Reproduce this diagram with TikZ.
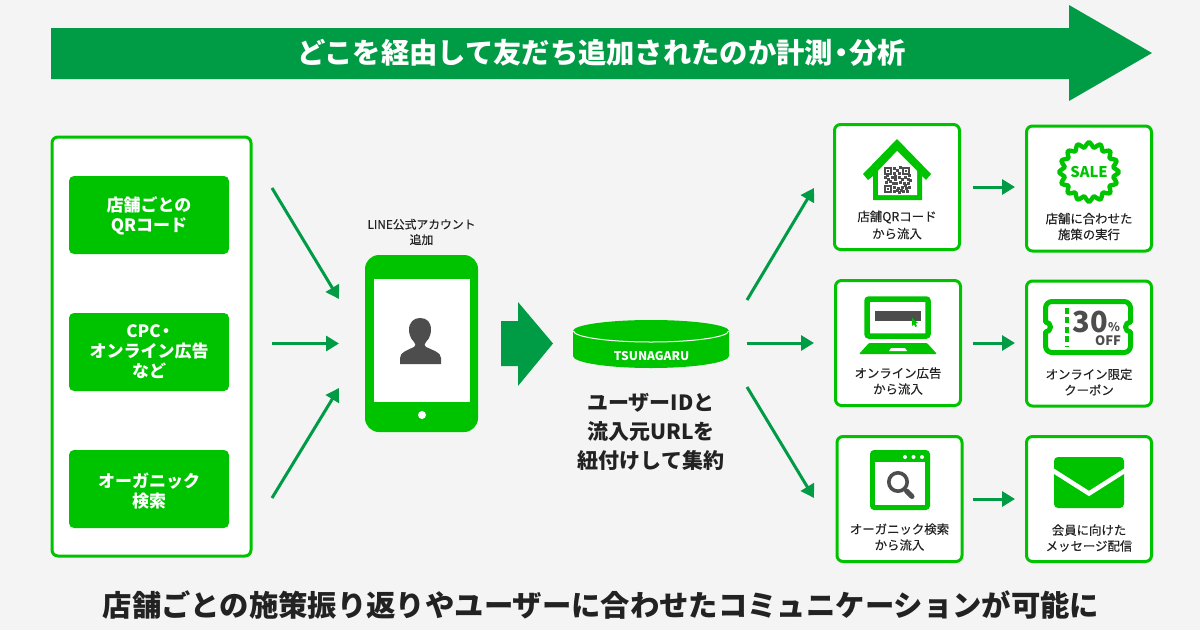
\documentclass[tikz,border=0pt]{standalone}
\usepackage{fontspec}
\setmainfont{Noto Sans CJK JP}
\newfontfamily\medf[FakeBold=0.25]{Noto Sans CJK JP}
\usetikzlibrary{arrows.meta,calc}
\definecolor{bgc}{HTML}{F4F4F4}
\definecolor{lime}{HTML}{00C300}
\definecolor{deep}{HTML}{009B45}
\definecolor{ink}{HTML}{222222}
\definecolor{greyi}{HTML}{4D4D4D}
\newcommand{\fs}[1]{\fontsize{#1}{#1}\selectfont}
\tikzset{
 panel/.style={draw=lime,fill=white,line width=3pt,rounded corners=6pt,inner sep=0pt,minimum width=#1},
 cardb/.style={panel=125pt,minimum height=125pt},
 srcbox/.style={fill=lime,rounded corners=5pt,minimum width=160pt,minimum height=78pt,inner sep=0pt},
 srctext/.style={inner sep=0pt,text=white,align=center,font=\fontsize{17}{20}\selectfont\bfseries},
 lab/.style={text=ink,align=center,font=\fs{12.4}\medf,inner sep=0pt},
 flow/.style={draw=deep,line width=3pt,-{Triangle[length=13pt,width=15pt]}},
 gq/.style={fill=greyi},
}
\begin{document}
\begin{tikzpicture}[x=1pt,y=-1pt]
\useasboundingbox (0,0) rectangle (1200,630);
\fill[bgc] (0,0) rectangle (1200,630);
% top arrow
\fill[deep] (51,28) -- (1069,28) -- (1069,5) -- (1152,53) -- (1069,101) -- (1069,79) -- (51,79) -- cycle;
\node[text=white,font=\fs{28.3}\bfseries,inner sep=0pt] (title) at (601.5,53) {どこを経由して友だち追加されたのか計測\kern-6pt・\kern-6pt 分析};
% left panel
\node[panel=199pt,minimum height=419pt] (left) at (151.5,346.5) {};
\node[srcbox] (s1) at (149,215) {};
\node[srcbox] (s2) at (149,352) {};
\node[srcbox] (s3) at (149,489) {};
\node[srctext] (s1t) at (149,216) {店舗ごとの\\QRコード};
\node[srctext] (s2t) at (149,352) {CPC\kern-3pt・\kern-3pt\\オンライン広告\\など};
\node[srctext] (s3t) at (149,491) {オーガニック\\検索};
% left arrows
\coordinate (a1s) at (272,188); \coordinate (a1e) at (339,299);
\coordinate (a2s) at (272,343.5); \coordinate (a2e) at (339,343.5);
\coordinate (a3s) at (272,498); \coordinate (a3e) at (339,388);
\draw[flow] (a1s) -- (a1e);
\draw[flow] (a2s) -- (a2e);
\draw[flow] (a3s) -- (a3e);
% phone
\node[lab,font=\fs{11.8}\medf] (phonelab) at (421.5,232) {LINE公式アカウント\\[3.5pt]追加};
\node[fill=lime,rounded corners=14pt,minimum width=113pt,minimum height=177pt,inner sep=0pt] (phone) at (421.5,343.5) {};
\node[fill=white,minimum width=96pt,minimum height=123pt,inner sep=0pt] (screen) at (422,340.5) {};
\fill[white] (422,415) circle (4);
\fill[greyi] (400,364) -- (400,358) .. controls (400,352) and (408,350) .. (414,347) .. controls (416,346) and (416,344) .. (414,342) .. controls (410,338) and (409,333) .. (409,330) .. controls (409,322) and (414,318) .. (420,318) .. controls (427,318) and (431,322) .. (431,330) .. controls (431,333) and (430,338) .. (426,342) .. controls (424,344) and (424,346) .. (426,347) .. controls (432,350) and (441,352) .. (441,358) -- (441,364) -- cycle;
% block arrow
\fill[deep] (501,321) -- (518,321) -- (518,302) -- (553,343.5) -- (518,386) -- (518,366) -- (501,366) -- cycle;
% disc
\fill[lime] (573,331) -- (573,356) arc[start angle=180,end angle=0,x radius=78,y radius=12] -- (729,331) arc[start angle=0,end angle=-180,x radius=78,y radius=11] -- cycle;
\draw[white,line width=1pt] (573.5,331) arc[start angle=180,end angle=0,x radius=77.5,y radius=11];
\node[text=white,font=\fs{12}\bfseries,inner sep=0pt] (brand) at (651.5,356) {TSUNAGARU};
\node[text=ink,font=\fs{21}\bfseries,align=center,inner sep=0pt] (mid) at (651,431.5) {ユーザーIDと\\[8pt]流入元URLを\\[8pt]紐付けして集約};
% right arrows
\coordinate (b1s) at (747,300); \coordinate (b1e) at (814,188);
\coordinate (b2s) at (747,343); \coordinate (b2e) at (814,343);
\coordinate (b3s) at (747,387); \coordinate (b3e) at (814,498);
\draw[flow] (b1s) -- (b1e);
\draw[flow] (b2s) -- (b2e);
\draw[flow] (b3s) -- (b3e);
% cards
\node[cardb] (c1) at (897,187) {};
\node[cardb] (c2) at (898,343) {};
\node[cardb] (c3) at (899.5,499) {};
\node[cardb] (d1) at (1089,188.5) {};
\node[cardb] (d2) at (1089,343.5) {};
\node[cardb] (d3) at (1089,499) {};
\draw[flow] ($(c1.east)+(11.5,0)$) -- ($(d1.west)+(-10,-1.5)$);
\draw[flow] ($(c2.east)+(10.5,0)$) -- ($(d2.west)+(-10,-0.5)$);
\draw[flow] ($(c3.east)+(9,0)$) -- ($(d3.west)+(-10,0)$);
% labels
\node[lab] (l1) at (897,225) {店舗QRコード\\[3.5pt]から流入};
\node[lab] (l2) at (898,381) {オンライン広告\\[3.5pt]から流入};
\node[lab] (l3) at (899.5,537) {オーガニック検索\\[3.5pt]から流入};
\node[lab] (r1) at (1089,226.5) {店舗に合わせた\\[3.5pt]施策の実行};
\node[lab] (r2) at (1089,382) {オンライン限定\\[3.5pt]クーポン};
\node[lab] (r3) at (1089,538) {会員に向けた\\[3.5pt]メッセージ配信};
% house icon
\fill[lime] (897,139) -- (931,174) -- (926,180) -- (922,176) -- (922,200) -- (873,200) -- (873,176) -- (868,180) -- (863,174) -- cycle;
\fill[white] (897,151) -- (917,171) -- (917,195) -- (878,195) -- (878,171) -- cycle;
\foreach \qx/\qy in {884/167,902/167,884/185}{
  \draw[greyi,line width=1.6pt] (\qx+.8,\qy+.8) rectangle (\qx+7.2,\qy+7.2);
  \fill[greyi] (\qx+3,\qy+3) rectangle (\qx+5,\qy+5);
}
\foreach \qx/\qy in {893/167,896/169,893/172,898/172,899/166,884/176,887/178,891/176,894/178,898/176,901/178,904/176,907/178,885/181,889/180,892/182,895/182,899/181,903/182,907/182,893/186,897/187,901/186,905/187,908/186,893/190,896/189,898/191,902/190,906/190,909/179,900/189,904/184,894/175,908/174,886/174}{
  \fill[gq] (\qx,\qy) rectangle ++(2.6,2.6);
}
% SALE badge
\draw[lime,line width=4.4pt,fill=white,line join=round] plot[smooth cycle,samples=64,domain=0:354.375,variable=\t] ({1089+(27.3+2.6*cos(16*\t))*cos(\t)},{172+(27.3+2.6*cos(16*\t))*sin(\t)});
\node[text=lime,font=\fs{14.8}\bfseries,inner sep=0pt] (sale) at (1089,172) {SALE};
% laptop
\draw[lime,line width=5.5pt,fill=white,rounded corners=2pt] (867,299) rectangle (928,336);
\fill[greyi] (875,311) rectangle (921,321);
\fill[lime] (912,318) -- (918,323) -- (915.5,323.5) -- (917,326) -- (915.5,327) -- (914,324.5) -- (912,326) -- cycle;
\fill[lime,rounded corners=1pt] (869,343) -- (927,343) -- (937,354) -- (859,354) -- cycle;
\fill[white] (891,348) -- (905,348) -- (907,351) -- (889,351) -- cycle;
% ticket
\draw[lime,line width=5pt,fill=white,line join=round] (1052,301.5) -- (1124,301.5) arc[start angle=-90,end angle=0,radius=6.5] -- (1130.5,322) arc[start angle=270,end angle=90,radius=5] -- (1130.5,346) arc[start angle=0,end angle=90,radius=6.5] -- (1052,352.5) arc[start angle=90,end angle=180,radius=6.5] -- (1045.5,332) arc[start angle=90,end angle=-90,radius=5] -- (1045.5,308) arc[start angle=180,end angle=270,radius=6.5] -- cycle;
\draw[lime,line width=4.5pt,dash pattern=on 6pt off 3.4pt] (1067,308) -- (1067,346);
\node[text=greyi,font=\fs{29}\bfseries,inner sep=0pt] (thirty) at (1090,321.5) {30};
\node[text=greyi,font=\fs{12}\bfseries,inner sep=0pt] (pct) at (1114,327) {\%};
\node[text=greyi,font=\fs{13}\bfseries,inner sep=0pt] (off) at (1108,341) {OFF};
% browser
\fill[lime,rounded corners=4pt] (870,450) rectangle (930,510);
\fill[white] (875,462) rectangle (925,505);
\foreach \dx in {905,913.5,922}{\fill[white] (\dx,457) circle (2);}
\draw[greyi,line width=3.6pt] (898,482) circle (9.2);
\draw[greyi,line width=5pt,line cap=round] (906.5,491) -- (912,496.5);
% envelope
\fill[lime,rounded corners=4pt] (1054,457) rectangle (1124,508);
\draw[white,line width=4.5pt] (1052,470) -- (1089,493.5) -- (1126,470);
% bottom
\node[text=ink,font=\fs{29.35}\bfseries,inner sep=0pt] (foot) at (601,605) {店舗ごとの施策振り返りやユーザーに合わせたコミュニケーションが可能に};
\end{tikzpicture}
\end{document}
